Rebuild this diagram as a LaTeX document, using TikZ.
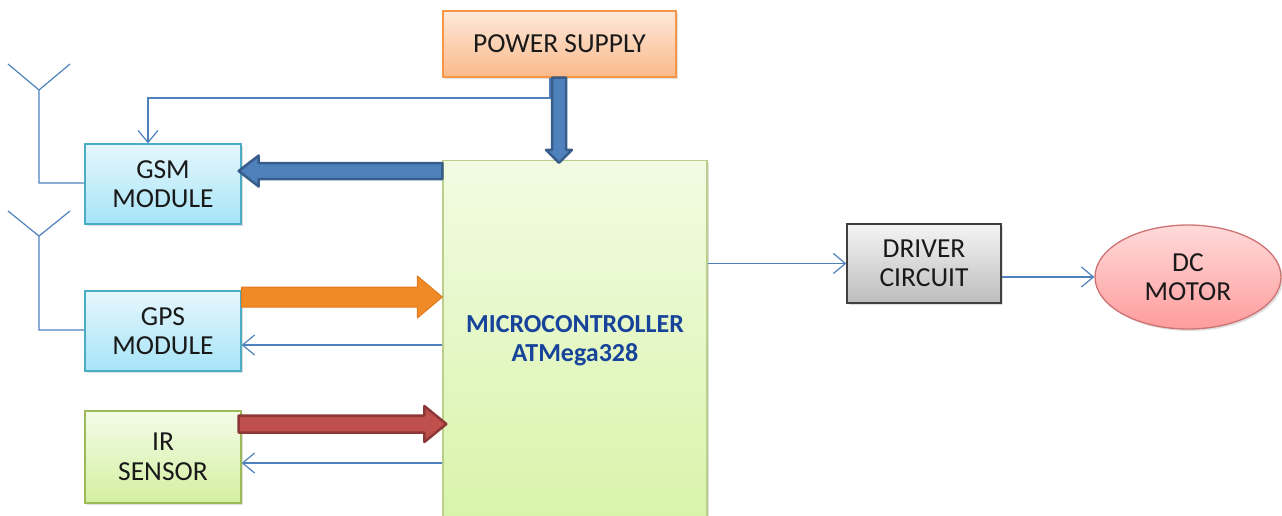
\documentclass[tikz,border=0pt]{standalone}
\usepackage{fontspec}
\setmainfont{Carlito}
\usetikzlibrary{arrows.meta,shapes.geometric,shadows,calc}
\definecolor{lineblue}{HTML}{4F81BD}
\definecolor{fatblue}{HTML}{4F81BD}
\definecolor{fatblueD}{HTML}{385D8A}
\definecolor{fatorange}{HTML}{F08A26}
\definecolor{fatorangeD}{HTML}{E07A1C}
\definecolor{fatred}{HTML}{C0504D}
\definecolor{fatredD}{HTML}{8C3836}
\definecolor{cyanT}{HTML}{E6F7FD}
\definecolor{cyanB}{HTML}{A6E4F7}
\definecolor{cyanD}{HTML}{4BACC6}
\definecolor{greenT}{HTML}{F4FBE8}
\definecolor{greenB}{HTML}{D3F0A0}
\definecolor{greenD}{HTML}{9BBB59}
\definecolor{mcuT}{HTML}{F2FBE2}
\definecolor{mcuB}{HTML}{D8F4AA}
\definecolor{orangeT}{HTML}{FDE9DA}
\definecolor{orangeB}{HTML}{FAB98A}
\definecolor{orangeD}{HTML}{F79646}
\definecolor{grayT}{HTML}{F4F4F4}
\definecolor{grayB}{HTML}{BDBDBD}
\definecolor{grayD}{HTML}{3F3F3F}
\definecolor{pinkT}{HTML}{FFDADA}
\definecolor{pinkB}{HTML}{FF9C9C}
\definecolor{pinkD}{HTML}{C0504D}
\definecolor{mcutext}{HTML}{17449A}
% fat horizontal arrow: #1 tail, #2 tip, #3 shaft half, #4 head half, #5 head length, #6 style
\newcommand{\fatH}[6]{%
  \path[#6] let \p1=(#1), \p2=(#2), \n1={sign(\x2-\x1)} in
    (\x1,\y1+#3) -- (\x2-\n1*#5,\y1+#3) -- (\x2-\n1*#5,\y1+#4) -- (\x2,\y1)
    -- (\x2-\n1*#5,\y1-#4) -- (\x2-\n1*#5,\y1-#3) -- (\x1,\y1-#3) -- cycle;}
\newcommand{\fatV}[6]{%
  \path[#6] let \p1=(#1), \p2=(#2), \n1={sign(\y2-\y1)} in
    (\x1+#3,\y1) -- (\x1+#3,\y2-\n1*#5) -- (\x1+#4,\y2-\n1*#5) -- (\x1,\y2)
    -- (\x1-#4,\y2-\n1*#5) -- (\x1-#3,\y2-\n1*#5) -- (\x1-#3,\y1) -- cycle;}
\begin{document}
\begin{tikzpicture}[x=1pt,y=-1pt,
  box/.style={rectangle, line width=1.3pt, align=center, inner sep=0pt,
    font=\fontsize{27.5}{29.5}\selectfont, text=black!90,
    drop shadow={shadow xshift=2pt, shadow yshift=-2pt, opacity=0.25}},
  cyanbox/.style={box, draw=cyanD, top color=cyanT, bottom color=cyanB},
  greenbox/.style={box, draw=greenD, top color=greenT, bottom color=greenB},
  orangebox/.style={box, draw=orangeD, top color=orangeT, bottom color=orangeB},
  graybox/.style={box, draw=grayD, top color=grayT, bottom color=grayB},
  thinline/.style={draw=lineblue, line width=1.2pt},
  thinarrow/.style={thinline, -{Straight Barb[length=12pt,width=20pt,line width=1.2pt]}},
  fat/.style={line width=2.5pt, line join=round}
]
\useasboundingbox (0,0) rectangle (1282,515);

% nodes
\node[orangebox, minimum width=233pt, minimum height=66pt] (power) at (559.5,44) {POWER SUPPLY};
\node[box, top color=mcuT, bottom color=mcuB, draw=greenD!70, minimum width=264pt, minimum height=361pt,
      font=\bfseries\fontsize{26}{29}\selectfont, text=mcutext] (micro) at (575,341) {MICROCONTROLLER\\ATMega328};
\node[cyanbox, minimum width=156pt, minimum height=80pt] (gsm) at (163,184) {GSM\\MODULE};
\node[cyanbox, minimum width=156pt, minimum height=80pt] (gps) at (163,331) {GPS\\MODULE};
\node[greenbox, minimum width=156pt, minimum height=92pt] (ir) at (163,457) {IR\\SENSOR};
\node[graybox, minimum width=154pt, minimum height=79pt] (driver) at (924,263.5) {DRIVER\\CIRCUIT};
\node[box, ellipse, draw=pinkD!80, top color=pinkT, bottom color=pinkB, minimum width=186pt, minimum height=104pt] (motor) at (1188,277) {DC\\MOTOR};

% antennas
\coordinate (ant1) at (39,90);
\coordinate (ant2) at (39,236);
\draw[thinline] (gsm.west |- 0,183) -| (ant1) -- ++(-31,-26) (ant1) -- ++(31,-26);
\draw[thinline] (gps.west |- 0,330) -| (ant2) -- ++(-31,-25) (ant2) -- ++(31,-25);

% thin connectors
\coordinate (pwrtap) at (power.south -| 550,0);
\draw[thinarrow] (pwrtap) |- (148,98) -- (gsm.north -| 148,0);
\draw[thinarrow] (micro.east |- driver.west) -- (driver.west);
\draw[thinarrow] (driver.east |- motor.west) -- (motor.west);
\draw[thinarrow] (micro.west |- 0,345) -- (gps.east |- 0,345);
\draw[thinarrow] (micro.west |- 0,463) -- (ir.east |- 0,463);

% fat arrows
\coordinate (pA) at (power.south -| 559,0);
\coordinate (pB) at ($(micro.north -| 559,0)+(0,3)$);
\fatV{pA}{pB}{7pt}{13pt}{13pt}{fat, fill=fatblue, draw=fatblueD}
\coordinate (gsmA) at (micro.west |- 0,171);
\coordinate (gsmB) at ($(gsm.east |- 0,171)+(-3,0)$);
\fatH{gsmA}{gsmB}{8pt}{15.5pt}{20pt}{fat, fill=fatblue, draw=fatblueD}
\coordinate (gpsA) at (gps.east |- 0,297);
\coordinate (gpsB) at (micro.west |- 0,297);
\fatH{gpsA}{gpsB}{10pt}{21pt}{25pt}{line width=1pt, line join=round, fill=fatorange, draw=fatorangeD}
\coordinate (irA) at ($(ir.east |- 0,424)+(-3,0)$);
\coordinate (irB) at ($(micro.west |- 0,424)+(4,0)$);
\fatH{irA}{irB}{8.5pt}{18pt}{22pt}{fat, fill=fatred, draw=fatredD}
\end{tikzpicture}
\end{document}
